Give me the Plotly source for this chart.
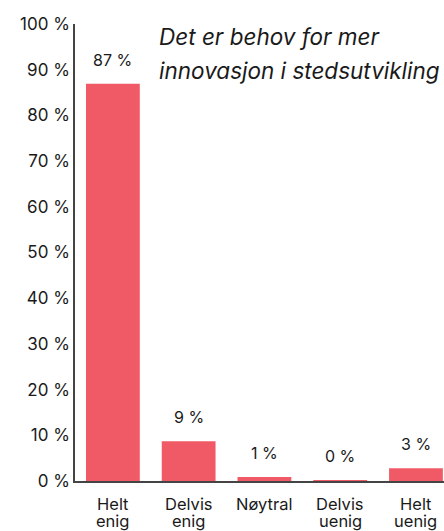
import plotly.graph_objects as go

categories = ["Helt<br>enig", "Delvis<br>enig", "Nøytral", "Delvis<br>uenig", "Helt<br>uenig"]
values = [86.9, 8.7, 0.9, 0.2, 2.8]
value_labels = ["87 %", "9 %", "1 %", "0 %", "3 %"]
y_ticks = [0, 10, 20, 30, 40, 50, 60, 70, 80, 90, 100]
y_tick_text = [f"{t} %" for t in y_ticks]

title_lines = ["Det er behov for mer", "innovasjon i stedsutvikling"]

font_family = "Inter, Lato, sans-serif"
bar_color = "#F05A66"
text_color = "#1a1a1a"

fig = go.Figure()
fig.add_trace(
    go.Bar(
        x=categories,
        y=values,
        marker=dict(color=bar_color, line=dict(width=0)),
        width=0.71,
        hoverinfo="skip",
    )
)

# value labels above the bars
for cat, val, lab in zip(categories, values, value_labels):
    fig.add_annotation(
        x=cat, y=val, text=lab, showarrow=False,
        yanchor="bottom", yshift=12,
        font=dict(family=font_family, size=16, color=text_color),
    )

# category labels, one annotation per line so the line spacing stays tight
for cat in categories:
    for i, line in enumerate(cat.split("<br>")):
        fig.add_annotation(
            x=cat, xref="x", yref="paper", y=-0.051 - 0.036 * i,
            text=line, showarrow=False, yanchor="middle", borderpad=0,
            font=dict(family=font_family, size=16.5, color=text_color),
        )

for i, line in enumerate(title_lines):
    fig.add_annotation(
        xref="paper", yref="paper", x=0.221, y=0.972 - 0.074 * i,
        xanchor="left", yanchor="middle",
        text=line, showarrow=False,
        font=dict(family=font_family, size=22.5, color=text_color, style="italic"),
    )

fig.update_xaxes(
    range=[-0.5, 4.37],
    showline=True, linecolor="#444", linewidth=1.5,
    ticks="", showgrid=False, showticklabels=False,
)
fig.update_yaxes(
    range=[0, 100], tickvals=y_ticks, ticktext=y_tick_text,
    showline=True, linecolor="#444", linewidth=1.5,
    ticks="", showgrid=False, zeroline=False,
    tickfont=dict(family=font_family, size=17, color=text_color),
)
fig.update_layout(
    width=444, height=531,
    margin=dict(l=75, r=0, t=24, b=50),
    plot_bgcolor="white", paper_bgcolor="white",
    showlegend=False,
)
fig.write_html(
    "out.html",
    config={"displayModeBar": False},
    post_script="document.body.style.margin='0';document.body.style.overflow='hidden';",
)
